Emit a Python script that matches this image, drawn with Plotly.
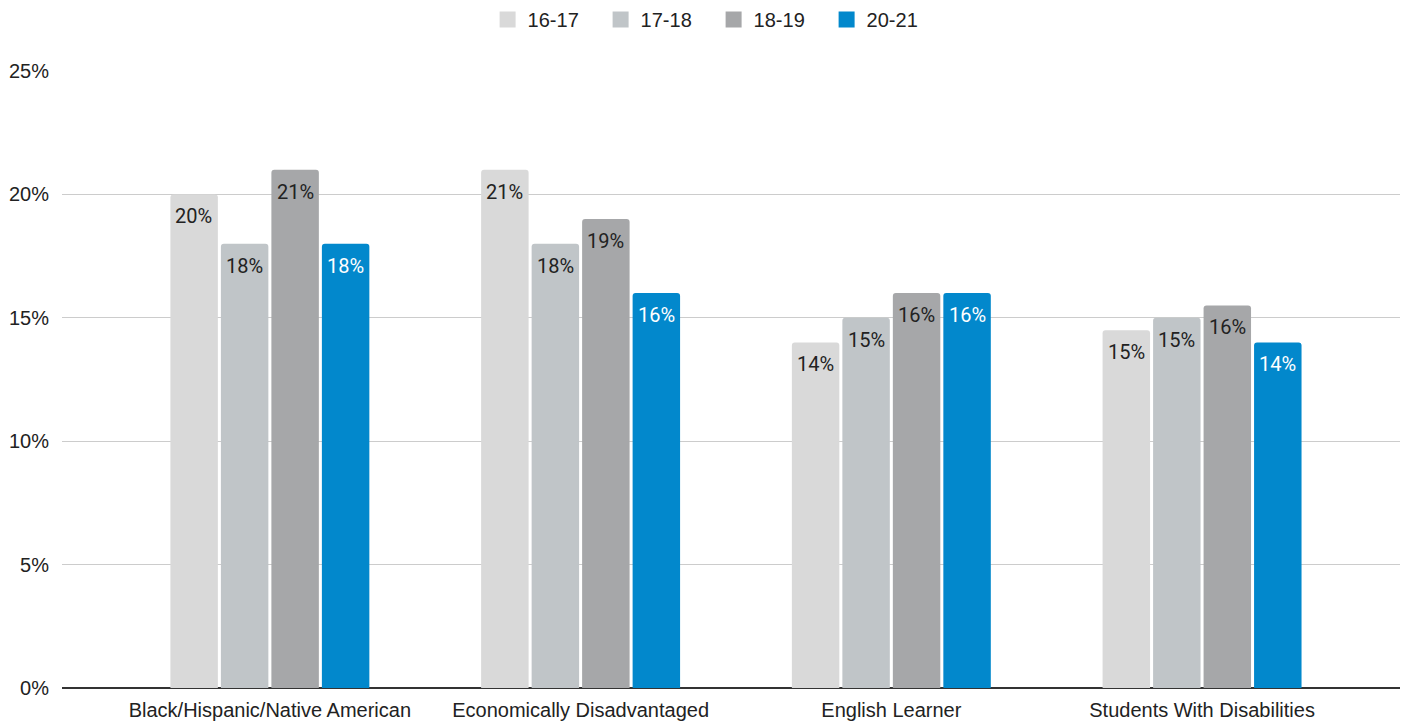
import plotly.graph_objects as go

categories = ["Black/Hispanic/Native American", "Economically Disadvantaged",
              "English Learner", "Students With Disabilities"]
series_names = ["16-17", "17-18", "18-19", "20-21"]
values_16_17 = [0.20, 0.21, 0.14, 0.145]
values_17_18 = [0.18, 0.18, 0.15, 0.15]
values_18_19 = [0.21, 0.19, 0.16, 0.155]
values_20_21 = [0.18, 0.16, 0.16, 0.14]
tick_vals = [0, 0.05, 0.10, 0.15, 0.20, 0.25]
tick_text = ["0%", "5%", "10%", "15%", "20%", "25%"]

colors = ["#d9d9d9", "#c0c5c8", "#a6a7a9", "#0288cc"]
label_colors = ["#222222", "#222222", "#222222", "#ffffff"]
all_values = [values_16_17, values_17_18, values_18_19, values_20_21]

# pixel width of one bar slot inside a group (used to centre labels over bars)
SLOT_PX = 50.6


def pct_label(v):
    # round half up to whole percent
    return f"{int(v * 100 + 0.5 + 1e-9)}%"


fig = go.Figure()
annotations = []
for i, (name, vals, c, lc) in enumerate(zip(series_names, all_values,
                                            colors, label_colors)):
    fig.add_trace(go.Bar(
        name=name, x=categories, y=vals, marker_color=c,
        marker_line_width=0, legendgroup=name, showlegend=False,
        hoverinfo="skip",
    ))
    # legend entry with a larger square swatch
    fig.add_trace(go.Scatter(
        name=name, x=[None], y=[None], mode="markers", legendgroup=name,
        marker=dict(symbol="square", size=16, color=c), showlegend=True,
    ))
    for cat, v in zip(categories, vals):
        annotations.append(dict(
            x=cat, y=v, xref="x", yref="y", text=pct_label(v),
            showarrow=False, xanchor="center", yanchor="middle",
            xshift=(i - 1.5) * SLOT_PX, yshift=-22,
            font=dict(family="Roboto", size=20, color=lc),
        ))

fig.update_layout(
    width=1402, height=722,
    margin=dict(l=62, r=2, t=71, b=34),
    paper_bgcolor="white", plot_bgcolor="white",
    barmode="group", bargap=0.35, bargroupgap=0.06,
    barcornerradius=3,
    annotations=annotations,
    font=dict(family="Liberation Sans, Arial, sans-serif", size=20, color="#222222"),
    legend=dict(orientation="h", x=0.487, xanchor="center", y=1.0, yanchor="top",
                yref="container", font=dict(size=20, color="#222222"),
                entrywidth=68, traceorder="normal"),
    showlegend=True,
)
fig.update_xaxes(range=[-0.669, 3.637], showgrid=False, ticks="",
                 tickfont=dict(size=20, color="#222222"), ticklabelstandoff=8,
                 showline=False, fixedrange=True)
fig.update_yaxes(range=[0, 0.25], tickvals=tick_vals, ticktext=tick_text,
                 showgrid=True, gridcolor="#cccccc", gridwidth=1,
                 zeroline=True, zerolinecolor="#333333", zerolinewidth=1.5,
                 ticks="", ticklabelstandoff=12,
                 tickfont=dict(size=20, color="#222222"), fixedrange=True)

fig.write_html("out.html")
